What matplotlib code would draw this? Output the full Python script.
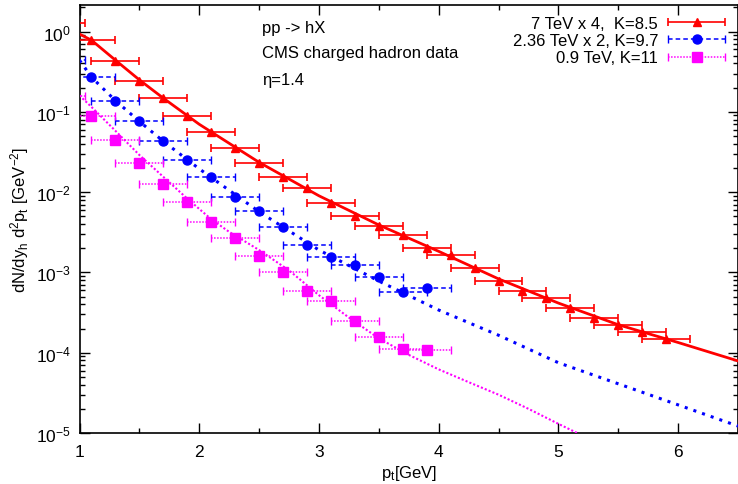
import numpy as np
import matplotlib
matplotlib.use("Agg")
import matplotlib.pyplot as plt
from matplotlib.ticker import MultipleLocator, LogLocator, NullFormatter
from matplotlib.container import ErrorbarContainer
from matplotlib.legend_handler import HandlerErrorbar

plt.rcParams['font.family'] = 'Liberation Sans'
plt.rcParams['mathtext.fontset'] = 'custom'
plt.rcParams['mathtext.rm'] = 'Liberation Sans'
plt.rcParams['mathtext.it'] = 'Liberation Sans'
plt.rcParams['mathtext.bf'] = 'Liberation Sans'

# CMS data points (bin centres, half width 0.2 GeV)
pt_7 = [0.85, 1.1, 1.3, 1.5, 1.7, 1.9, 2.1, 2.3, 2.5, 2.7, 2.9, 3.1, 3.3,
        3.5, 3.7, 3.9, 4.1, 4.3, 4.5, 4.7, 4.9, 5.1, 5.3, 5.5, 5.7, 5.9]
y_7 = [1.28, 0.78, 0.43, 0.242, 0.149, 0.0887, 0.0556, 0.0351, 0.0230,
       0.0153, 0.01125, 0.00738, 0.00508, 0.00382, 0.00295, 0.00199,
       0.00165, 0.00114, 0.00079, 0.000582, 0.000476, 0.000363,
       0.000271, 0.000223, 0.000183, 0.000148]
pt_low = [0.85, 1.1, 1.3, 1.5, 1.7, 1.9, 2.1, 2.3, 2.5, 2.7, 2.9, 3.1,
          3.3, 3.5, 3.7, 3.9]
y_236 = [0.44, 0.269, 0.137, 0.0775, 0.0437, 0.0251, 0.0155, 0.00877,
         0.00587, 0.00365, 0.00221, 0.00157, 0.00124, 0.00087, 0.000565,
         0.00064]
y_09 = [0.158, 0.0895, 0.045, 0.0230, 0.0126, 0.00746, 0.00428, 0.00266,
        0.00159, 0.00102, 0.000591, 0.000444, 0.000250, 0.000158,
        0.000111, 0.000109]
bin_half = 0.2

# model curves
x_fit7 = [1.0, 1.1, 1.3, 1.5, 1.7, 2.0, 2.5, 3.0, 3.5, 4.0, 4.5, 5.0, 5.5, 6.0, 6.5]
fit_7 = [0.93, 0.78, 0.44, 0.25, 0.148, 0.070, 0.0235, 0.0090, 0.0039,
         0.00183, 0.00083, 0.000415, 0.000223, 0.000134, 7.9e-5]
x_fit236 = [1.0, 1.1, 1.3, 1.5, 1.7, 2.0, 2.5, 3.0, 3.5, 4.0, 4.5, 5.0, 5.5, 6.0, 6.5]
fit_236 = [0.44, 0.27, 0.138, 0.076, 0.043, 0.0195, 0.0057, 0.0019, 0.00078,
           0.00034, 0.000165, 7.5e-5, 4.1e-5, 2.24e-5, 1.22e-5]
x_fit09 = [1.0, 1.1, 1.3, 1.5, 1.7, 1.9, 2.1, 2.25, 2.5, 2.75, 3.0, 3.25, 3.5,
           3.75, 4.0, 4.25, 4.5, 4.75, 5.0, 5.2]
fit_09 = [0.16, 0.115, 0.058, 0.029, 0.0155, 0.0083, 0.0046, 0.0032, 0.0019,
          0.00106, 0.00052, 0.000274, 0.000151, 9.4e-5, 6.2e-5, 4.3e-5,
          3.0e-5, 2.0e-5, 1.3e-5, 9.3e-6]

labels = ['7 TeV x 4,  K=8.5', '2.36 TeV x 2, K=9.7', '0.9 TeV, K=11']

fig = plt.figure(figsize=(7.38, 4.85), dpi=100)
ax = fig.add_axes([79.5/738, 51/485, 658.5/738, 428/485])

# curves
ax.plot(x_fit7, fit_7, color='#ff0000', lw=2.0, zorder=3)
ax.plot(x_fit236, fit_236, color='#0000ff', lw=2.2, ls=(0, (1, 2.0)), zorder=3)
ax.plot(x_fit09, fit_09, color='#ff00ff', lw=1.5, ls=(0, (1, 1.0)), zorder=3)

# data
e1 = ax.errorbar(pt_7, y_7, xerr=bin_half, fmt='^', color='#ff0000', ms=5.5,
                 elinewidth=1.2, capsize=3, capthick=1.2, label=labels[0], zorder=4)
e2 = ax.errorbar(pt_low, y_236, xerr=bin_half, fmt='o', color='#0000ff', ms=6.5,
                 elinewidth=1.1, capsize=3, capthick=1.0, label=labels[1], zorder=4)
e2[2][0].set_linestyle((0, (3, 2)))
e3 = ax.errorbar(pt_low, y_09, xerr=bin_half, fmt='s', color='#ff00ff', ms=6.5,
                 elinewidth=1.1, capsize=3, capthick=1.0, label=labels[2], zorder=4)
e3[2][0].set_linestyle((0, (1, 1)))

ax.set_yscale('log')
ax.set_xlim(1, 6.5)
ax.set_ylim(1e-5, 2.14)

ax.xaxis.set_major_locator(MultipleLocator(1))
ax.xaxis.set_minor_locator(MultipleLocator(0.5))
ax.yaxis.set_major_locator(LogLocator(base=10, numticks=10))
ax.yaxis.set_minor_locator(LogLocator(base=10, subs=np.arange(2, 10), numticks=20))
ax.yaxis.set_minor_formatter(NullFormatter())
ax.tick_params(which='both', direction='in', top=True, right=True, width=1.0)
ax.tick_params(which='major', length=7, labelsize=12.5)
ax.tick_params(which='minor', length=3.5)
ax.tick_params(axis='x', which='major', pad=8)
ax.tick_params(axis='y', which='major', pad=6)
for s in ax.spines.values():
    s.set_linewidth(1.2)

ax.set_xlabel(r'p$_\mathrm{t}$[GeV]', fontsize=12, labelpad=3)
ax.set_ylabel(r'dN/dy$_\mathrm{h}$ d$^2$p$_\mathrm{t}$ [GeV$^{-2}$]', fontsize=12, labelpad=4)

ax.text(0.277, 0.948, 'pp -> hX', transform=ax.transAxes, fontsize=12, va='center')
ax.text(0.277, 0.889, 'CMS charged hadron data', transform=ax.transAxes, fontsize=12, va='center')
ax.text(0.277, 0.827, 'η=1.4', transform=ax.transAxes, fontsize=12, va='center')

ax.legend(handler_map={ErrorbarContainer: HandlerErrorbar(xerr_size=1.7, numpoints=1)},
          loc='upper right', bbox_to_anchor=(0.975, 0.974), frameon=False,
          markerfirst=False, fontsize=12, handlelength=3.0, handletextpad=0.8,
          labelspacing=0.13, borderaxespad=0, borderpad=0)

fig.savefig('out.png', dpi=100)
